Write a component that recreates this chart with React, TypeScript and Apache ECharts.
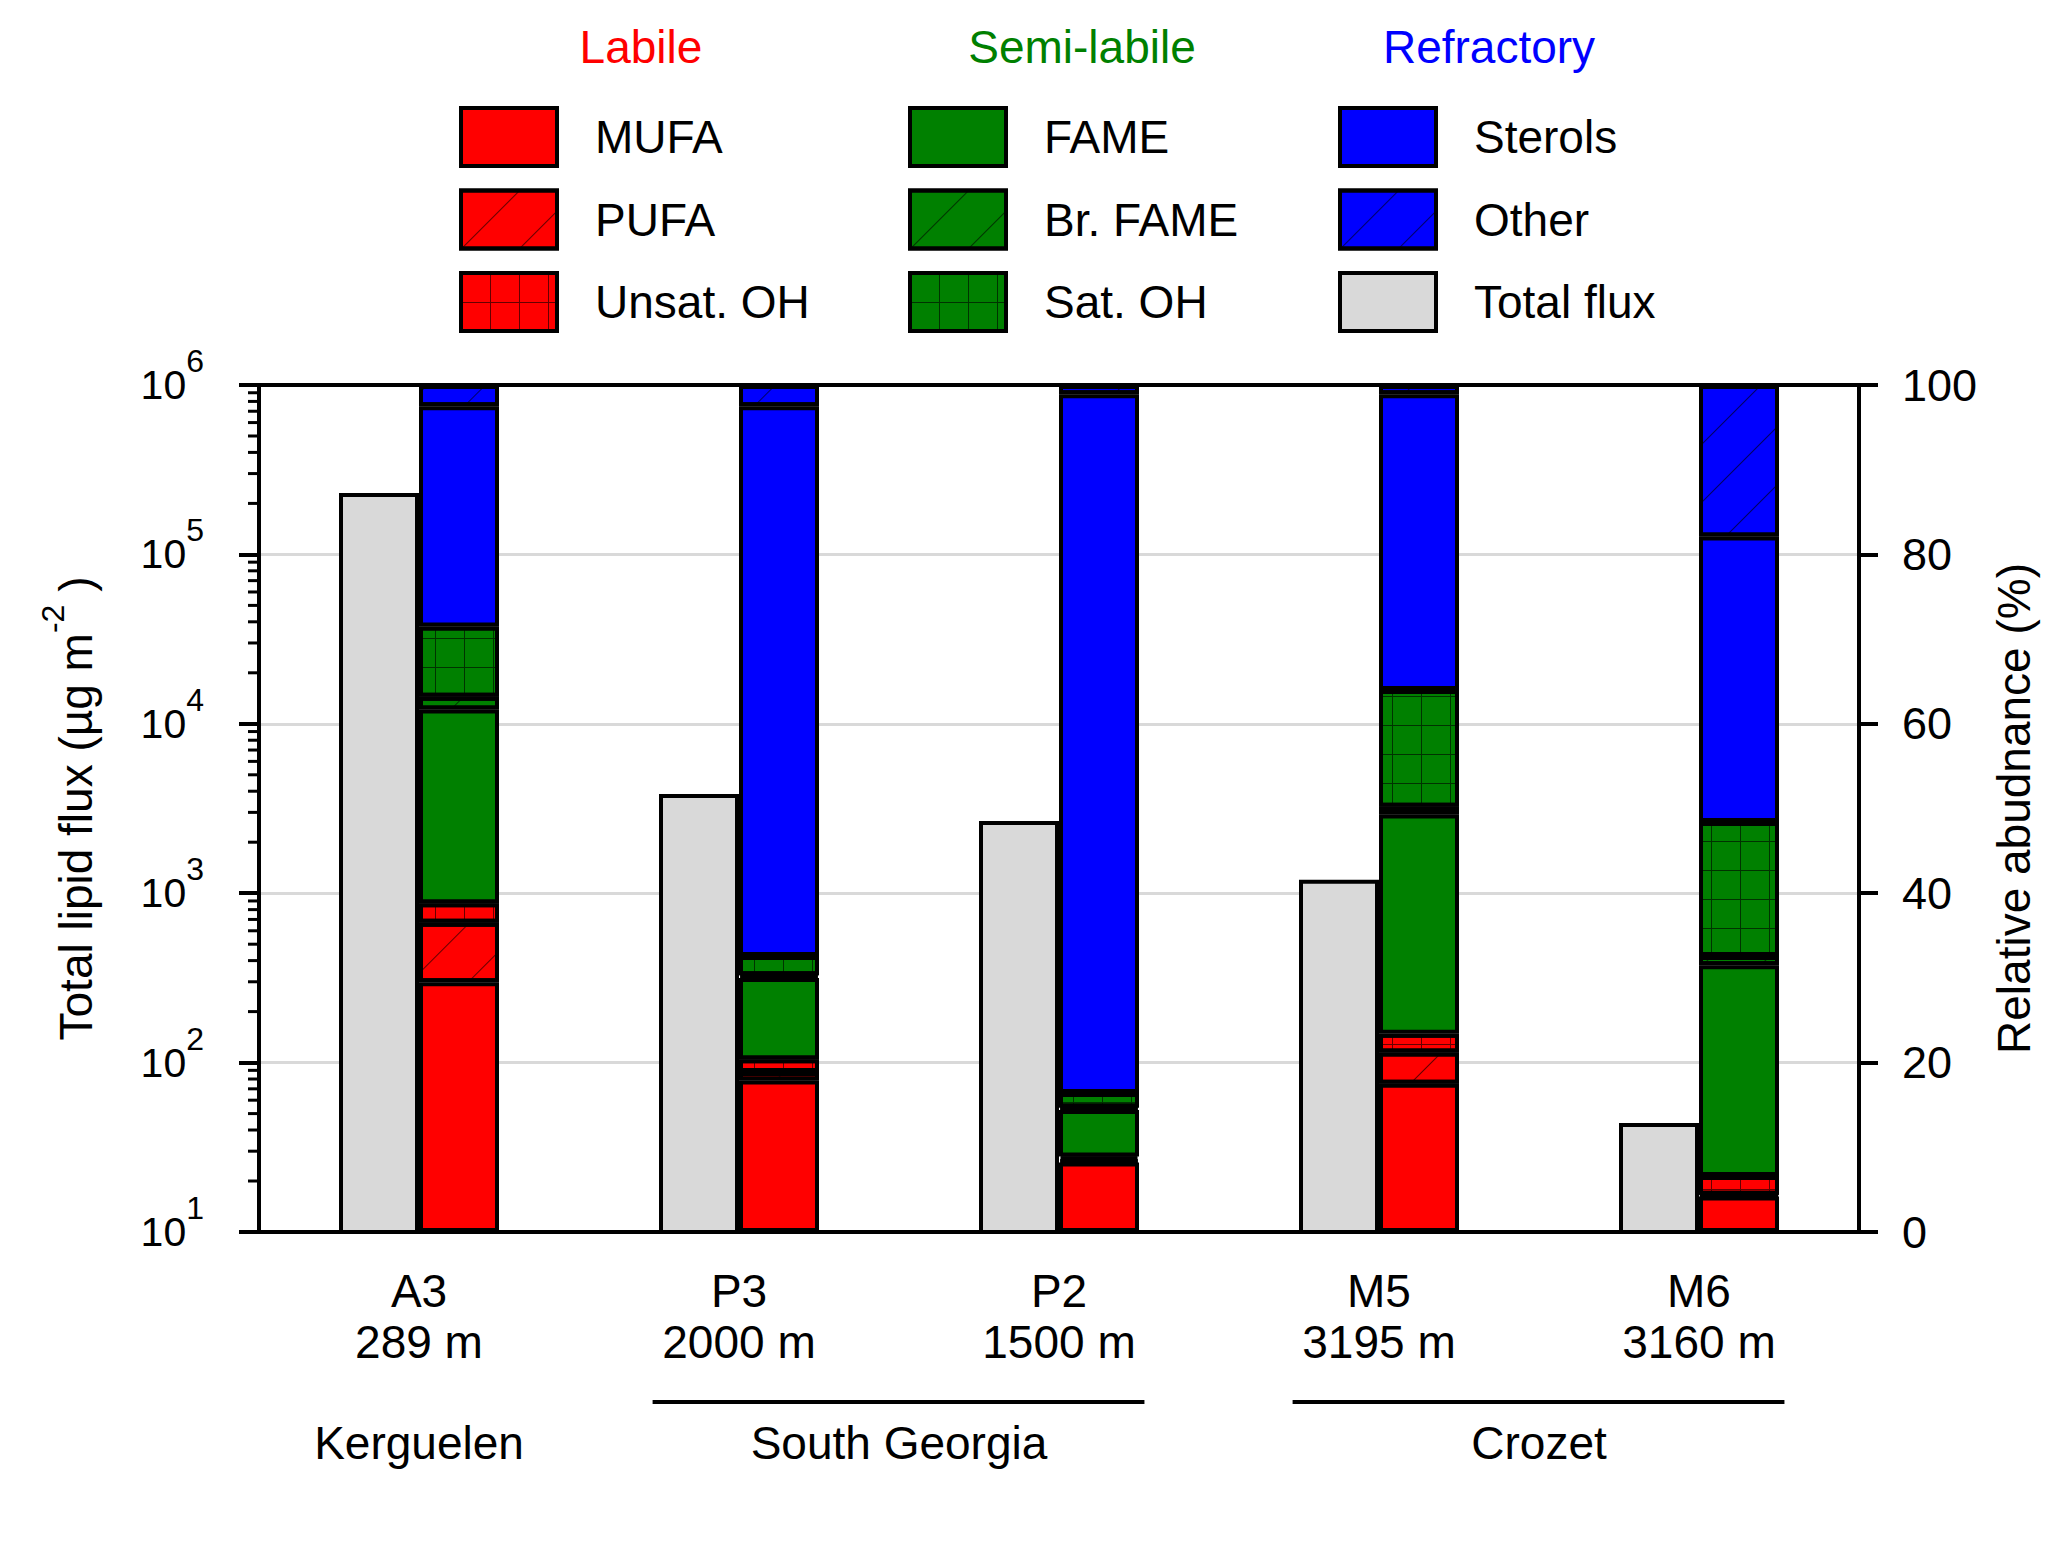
import React, { useEffect, useRef } from 'react'
import * as echarts from 'echarts'

// stations, depths and regions
const categories = ['A3', 'P3', 'P2', 'M5', 'M6']
const depths = ['289 m', '2000 m', '1500 m', '3195 m', '3160 m']

// total lipid flux (µg m-2), log axis
const totalFlux = [230000, 3850, 2670, 1200, 44]

// relative abundance (%) of each lipid class
const mufa = [29.5, 17.9, 8.2, 17.5, 4.2]
const pufa = [7.0, 1.0, 0.3, 3.7, 0.2]
const unsatOH = [2.3, 1.5, 0.4, 2.2, 2.2]
const fame = [22.9, 9.6, 5.5, 25.9, 24.9]
const brFame = [1.5, 0.3, 0.3, 0.9, 1.1]
const satOH = [8.3, 2.3, 1.7, 13.8, 15.8]
const sterols = [26.0, 64.9, 82.5, 34.9, 33.7]
const other = [2.5, 2.5, 1.1, 1.1, 17.9]

const regions = [
  { name: 'Kerguelen', from: 'A3', to: 'A3', line: false },
  { name: 'South Georgia', from: 'P3', to: 'P2', line: true },
  { name: 'Crozet', from: 'M5', to: 'M6', line: true }
]

const groupHeaders = ['Labile', 'Semi-labile', 'Refractory']
const groupItems = [
  ['MUFA', 'PUFA', 'Unsat. OH'],
  ['FAME', 'Br. FAME', 'Sat. OH'],
  ['Sterols', 'Other', 'Total flux']
]

// minor ticks of the log axis (2..9 in each decade)
const decades = [10, 100, 1000, 10000, 100000]
const minorMultipliers = [2, 3, 4, 5, 6, 7, 8, 9]

const RED = '#ff0000'
const GREEN = '#008000'
const BLUE = '#0000ff'
const GREY = '#d9d9d9'
const FONT = '"Liberation Sans", Arial, sans-serif'

// thin diagonal lines
const hatch = () => ({
  symbol: 'rect',
  symbolSize: 1,
  color: 'rgba(0,0,0,0.6)',
  dashArrayX: [1, 0],
  dashArrayY: [1, 40],
  rotation: -Math.PI / 4
})

// thin square grid: a 1px full row, then a 28px row of 1px dashes
const gridDecal = () => ({
  symbol: 'rect',
  symbolSize: 1,
  color: 'rgba(0,0,0,0.6)',
  dashArrayX: [[1, 0], [1, 28]],
  dashArrayY: [1, 0, 28, 0]
})

const App: React.FC = () => {
  const chartRef = useRef<HTMLDivElement>(null)

  useEffect(() => {
    document.body.style.margin = '0'
    if (!chartRef.current) return
    const chart = echarts.init(chartRef.current, undefined, { renderer: 'svg' })

    const stacks = [
      { name: 'MUFA', data: mufa, color: RED, decal: undefined },
      { name: 'PUFA', data: pufa, color: RED, decal: hatch() },
      { name: 'Unsat. OH', data: unsatOH, color: RED, decal: gridDecal() },
      { name: 'FAME', data: fame, color: GREEN, decal: undefined },
      { name: 'Br. FAME', data: brFame, color: GREEN, decal: hatch() },
      { name: 'Sat. OH', data: satOH, color: GREEN, decal: gridDecal() },
      { name: 'Sterols', data: sterols, color: BLUE, decal: undefined },
      { name: 'Other', data: other, color: BLUE, decal: hatch() }
    ]

    const minorTicks = decades.flatMap((d) => minorMultipliers.map((m) => [0, d * m]))

    const legendLeft = [459, 908, 1338]

    const option: any = {
      animation: false,
      backgroundColor: '#fff',
      textStyle: { fontFamily: FONT },
      grid: {
        left: 259,
        right: 207,
        top: 385,
        bottom: 309,
        show: false
      },
      legend: groupItems.map((items, i) => ({
        data: items,
        orient: 'vertical',
        left: legendLeft[i],
        top: 106,
        padding: 0,
        itemWidth: 96,
        itemHeight: 58,
        itemGap: 20.5,
        icon: 'rect',
        selectedMode: false,
        itemStyle: { borderColor: '#000', borderWidth: 4 },
        textStyle: { fontSize: 46, color: '#000', fontFamily: FONT, padding: [0, 0, 0, 33] }
      })),
      xAxis: [
        {
          type: 'category',
          data: categories,
          axisLine: { show: true, lineStyle: { color: '#000', width: 4 } },
          axisTick: { show: false },
          splitLine: { show: false },
          axisLabel: {
            margin: 33,
            fontSize: 46,
            lineHeight: 51,
            color: '#000',
            fontFamily: FONT,
            formatter: (v: string, i: number) => `${v}\n${depths[i]}`
          }
        },
        {
          // top frame line
          type: 'category',
          data: categories,
          position: 'top',
          axisLine: { show: true, lineStyle: { color: '#000', width: 4 } },
          axisTick: { show: false },
          axisLabel: { show: false },
          splitLine: { show: false }
        }
      ],
      yAxis: [
        {
          type: 'log',
          logBase: 10,
          min: 10,
          max: 1000000,
          position: 'left',
          axisLine: { show: true, lineStyle: { color: '#000', width: 4 } },
          axisTick: { show: true, inside: false, length: 20, lineStyle: { color: '#000', width: 4 } },
          splitLine: { show: true, lineStyle: { color: GREY, width: 3 } },
          axisLabel: {
            margin: 55,
            color: '#000',
            formatter: (v: number) => `{b|10}{s|${Math.round(Math.log10(v))}}`,
            rich: {
              b: { fontSize: 41, lineHeight: 80, fontFamily: FONT, color: '#000' },
              s: { fontSize: 32, verticalAlign: 'top', fontFamily: FONT, color: '#000' }
            }
          },
          name: '{a|Total lipid flux (µg m}{s|-2}{a| )}',
          nameLocation: 'middle',
          nameRotate: 90,
          nameGap: 144,
          nameTextStyle: {
            rich: {
              a: { fontSize: 46, lineHeight: 78, fontFamily: FONT, color: '#000' },
              s: { fontSize: 32, verticalAlign: 'top', fontFamily: FONT, color: '#000' }
            }
          }
        },
        {
          type: 'value',
          min: 0,
          max: 100,
          interval: 20,
          position: 'right',
          axisLine: { show: true, lineStyle: { color: '#000', width: 4 } },
          axisTick: { show: true, inside: false, length: 19, lineStyle: { color: '#000', width: 4 } },
          splitLine: { show: false },
          axisLabel: { margin: 43, fontSize: 45, color: '#000', fontFamily: FONT },
          name: 'Relative abudnance (%)',
          nameLocation: 'middle',
          nameRotate: 90,
          nameGap: 132,
          nameTextStyle: { fontSize: 46, color: '#000', fontFamily: FONT }
        }
      ],
      series: [
        {
          name: 'Total flux',
          type: 'bar',
          yAxisIndex: 0,
          data: totalFlux,
          barWidth: 80,
          barGap: '0%',
          clip: true,
          itemStyle: { color: GREY, borderColor: '#000', borderWidth: 4 }
        },
        ...stacks.map((s) => ({
          name: s.name,
          type: 'bar',
          stack: 'pct',
          yAxisIndex: 1,
          data: s.data,
          barWidth: 80,
          barGap: '0%',
          itemStyle: { color: s.color, borderColor: '#000', borderWidth: 4, decal: s.decal }
        })),
        {
          name: 'minor',
          type: 'custom',
          yAxisIndex: 0,
          silent: true,
          z: 5,
          data: minorTicks,
          encode: { x: 0, y: 1 },
          renderItem: (params: any, api: any) => {
            const y = api.coord([0, api.value(1)])[1]
            const x0 = params.coordSys.x
            return {
              type: 'line',
              shape: { x1: x0 - 11, y1: y, x2: x0, y2: y },
              style: { stroke: '#000', lineWidth: 3 }
            }
          }
        }
      ]
    }

    chart.setOption(option)

    // annotations placed from the category axis
    const px = (c: string) => chart.convertToPixel({ xAxisIndex: 0 }, c) as number
    const band = px(categories[1]) - px(categories[0])
    const axisY = chart.convertToPixel({ yAxisIndex: 1 }, 0) as number
    const headerColors = [RED, GREEN, BLUE]
    const headerX = [641, 1082, 1489]

    const textStyle = (text: string, fill: string) => ({
      text,
      fill,
      fontSize: 46,
      fontFamily: FONT,
      textAlign: 'center',
      align: 'center',
      textVerticalAlign: 'middle',
      verticalAlign: 'middle'
    })

    const graphics: any[] = groupHeaders.map((h, i) => ({
      type: 'text',
      x: headerX[i],
      y: 47,
      style: textStyle(h, headerColors[i])
    }))

    regions.forEach((r) => {
      const x1 = px(r.from)
      const x2 = px(r.to)
      graphics.push({
        type: 'text',
        x: (x1 + x2) / 2,
        y: axisY + 211,
        style: textStyle(r.name, '#000')
      })
      if (r.line) {
        graphics.push({
          type: 'line',
          shape: { x1: x1 - 0.27 * band, y1: axisY + 170, x2: x2 + 0.267 * band, y2: axisY + 170 },
          style: { stroke: '#000', lineWidth: 4 }
        })
      }
    })

    chart.setOption({ graphic: graphics })

    return () => {
      chart.dispose()
    }
  }, [])

  return <div ref={chartRef} style={{ width: '2066px', height: '1541px' }} />
}

export default App
